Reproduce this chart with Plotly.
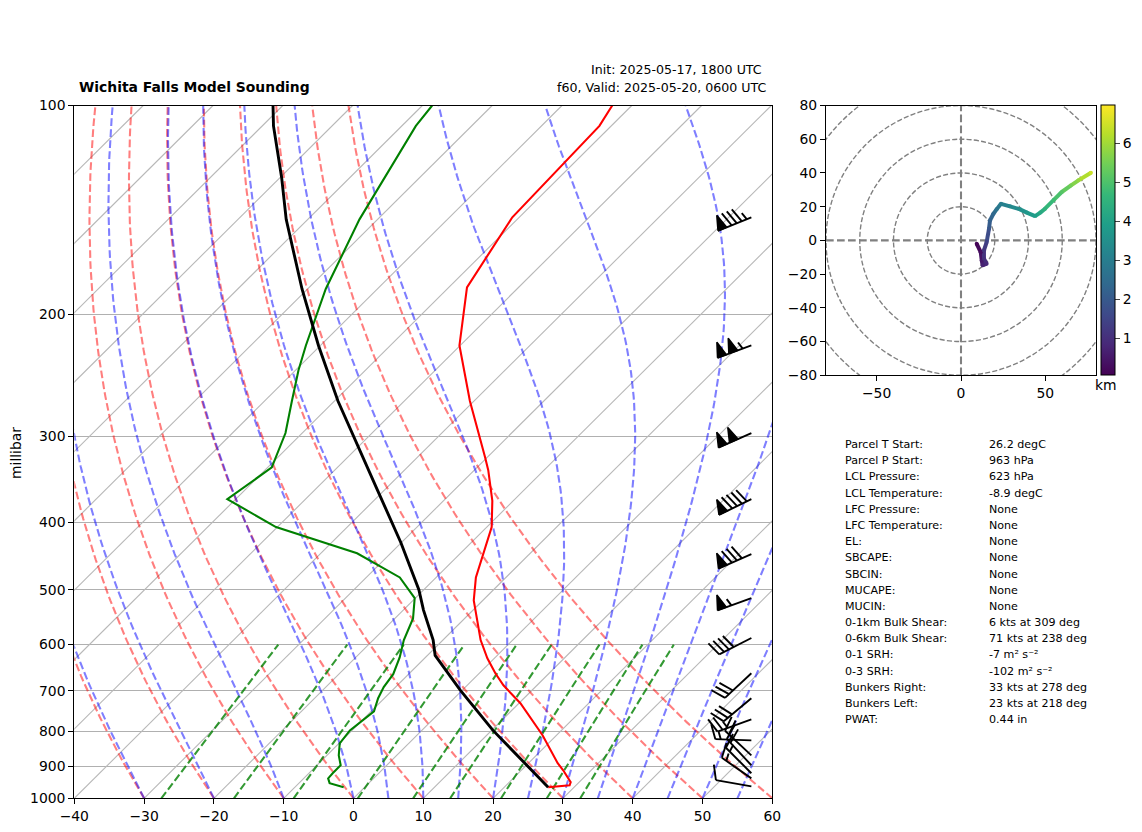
import numpy as np
import plotly.graph_objects as go
from plotly.colors import sample_colorscale

W, H = 1142, 832

# ---- sounding values, hPa and degC ----
temp_p = [964, 958, 948, 911, 890, 852, 811, 729, 687, 660, 628, 591, 548, 518, 480, 449, 406, 372, 336, 322, 267, 222, 183, 145, 126, 107, 100]
temp_c = [26.3, 29.1, 28.8, 26.0, 24.2, 21.3, 18.0, 10.2, 5.2, 2.3, -1.0, -4.6, -8.5, -11.3, -14.3, -16.3, -19.3, -23.0, -28.0, -30.3, -40.6, -50.1, -57.4, -61.0, -61.3, -61.7, -62.8]

dew_p = [964, 951, 936, 920, 896, 867, 833, 798, 749, 717, 691, 662, 626, 591, 550, 514, 480, 443, 406, 370, 333, 297, 267, 241, 222, 184, 146, 107, 100]
dew_c = [-3.0, -5.6, -6.5, -6.6, -6.6, -8.3, -9.9, -10.3, -9.6, -10.9, -11.7, -12.2, -13.7, -15.6, -17.4, -20.1, -25.2, -34.8, -50.2, -61.2, -59.4, -62.4, -66.1, -69.6, -72.1, -77.4, -82.6, -88.0, -88.6]

parcel_p = [964, 798, 698, 622, 591, 535, 500, 428, 359, 267, 222, 184, 146, 127, 107, 100]
parcel_c = [26.3, 10.2, -0.3, -8.9, -11.4, -17.1, -20.7, -30.0, -41.0, -59.5, -70.3, -80.8, -93.1, -99.8, -108.4, -111.4]

# ---- wind barbs ----
barb_p = [961, 936, 920, 896, 867, 825, 769, 717, 660, 587, 514, 444, 370, 297, 222, 145]
barb_kt = [10, 15, 15, 20, 20, 15, 25, 30, 30, 40, 55, 80, 90, 100, 105, 85]
barb_dir = [280, 305, 315, 317, 313, 272, 250, 230, 227, 243, 250, 246, 244, 246, 250, 248]

# ---- hodograph ----
hodo_u = [9.3, 11.7, 12.3, 12.8, 15.2, 13.6, 13.6, 15.2, 16.6, 17.2, 19.2, 21.1, 23.7, 29.0, 35.0, 39.0, 43.9, 47.0, 49.8, 55.0, 59.7, 65.0, 69.6, 77.0]
hodo_v = [-2.0, -7.0, -11.9, -14.8, -13.8, -10.9, -5.9, -1.0, 6.9, 11.9, 15.8, 18.4, 21.7, 20.2, 18.4, 16.5, 14.4, 16.5, 18.8, 24.0, 28.7, 32.5, 35.6, 40.1]
hodo_km = [0.1, 0.3, 0.5, 0.7, 0.85, 1.0, 1.15, 1.4, 1.9, 2.2, 2.4, 2.7, 3.0, 3.25, 3.5, 3.7, 3.9, 4.2, 4.5, 4.8, 5.1, 5.5, 5.85, 6.45]

# ---- text ----
stat_labels = ["Parcel T Start:", "Parcel P Start:", "LCL Pressure:", "LCL Temperature:", "LFC Pressure:", "LFC Temperature:", "EL:", "SBCAPE:", "SBCIN:", "MUCAPE:", "MUCIN:", "0-1km Bulk Shear:", "0-6km Bulk Shear:", "0-1 SRH:", "0-3 SRH:", "Bunkers Right:", "Bunkers Left:", "PWAT:"]
stat_values = ["26.2 degC", "963 hPa", "623 hPa", "-8.9 degC", "None", "None", "None", "None", "None", "None", "None", "6 kts at 309 deg", "71 kts at 238 deg", "-7 m² s⁻²", "-102 m² s⁻²", "33 kts at 278 deg", "23 kts at 218 deg", "0.44 in"]

# ---- reference-line families ----
iso_t = list(range(-150, 61, 10))
dry_t0 = list(range(-30, 61, 10))
moist_t0 = [-30, -20, -10, 0, 5, 10, 15, 20, 25, 30, 35, 40, 45, 50, 55]
mix_w = [0.0004, 0.001, 0.002, 0.004, 0.007, 0.01, 0.016, 0.024, 0.032]

# ---- frame geometry ----
ML, MR, MT, MB = 74.3, 772.3, 105.5, 798.3
HL, HR, HT, HB = 826, 1096, 105.5, 375.3
PX_PER_C = (MR - ML) / 100.0
PX_PER_DEC = float(MB - MT)
SKEW = 99.87
FONT = "DejaVu Sans"
TICK = 13.9
LW = 2.08
DASH = "7.7px,3.3px"


def skew_x(t, p):
    return np.asarray(t, float) + SKEW * np.log10(1000.0 / np.asarray(p, float))


def es(tk):
    tc = tk - 273.15
    return 6.112 * np.exp(17.67 * tc / (tc + 243.5))


def moist_rate(p, t):
    rd, cp, lv, eps = 287.047, 1005.7, 2.501e6, 0.622
    e = es(t)
    rs = eps * e / np.maximum(p - e, 1e-6)
    return ((rd * t + lv * rs) / (cp + lv * lv * rs * eps / (rd * t * t))) / p


def moist_profile(t0c, levels):
    out = [t0c + 273.15]
    for a, b in zip(levels[:-1], levels[1:]):
        h = b - a
        t = out[-1]
        k1 = moist_rate(a, t)
        k2 = moist_rate(a + h / 2, t + h * k1 / 2)
        k3 = moist_rate(a + h / 2, t + h * k2 / 2)
        k4 = moist_rate(b, t + h * k3)
        out.append(t + h * (k1 + 2 * k2 + 2 * k3 + k4) / 6)
    return np.array(out) - 273.15


def family(curves):
    xs, ys = [], []
    for x, y in curves:
        xs += list(x) + [None]
        ys += list(y) + [None]
    return xs, ys


fig = go.Figure()
levels = np.geomspace(1000, 100, 120)


def guide(curves, color, opacity, width=LW, dash=DASH):
    xs, ys = family(curves)
    fig.add_trace(go.Scatter(x=xs, y=ys, mode="lines", opacity=opacity, hoverinfo="skip",
                             line=dict(color=color, width=width, dash=dash), xaxis="x", yaxis="y"))


guide([(skew_x([t, t], [1000, 100]), [1000, 100]) for t in iso_t], "#b8b8b8", 1, 1.1, "solid")
guide([(skew_x((t0 + 273.15) * (levels / 1000) ** 0.2857 - 273.15, levels), levels) for t0 in dry_t0], "#ff0000", 0.5)
guide([(skew_x(moist_profile(t0, levels), levels), levels) for t0 in moist_t0], "#0000ff", 0.5)

mix_levels = np.geomspace(1000, 600, 30)
mix_curves = []
for w in mix_w:
    e = mix_levels * w / (0.622 + w)
    v = np.log(e / 6.112)
    mix_curves.append((skew_x(243.5 * v / (17.67 - v), mix_levels), mix_levels))
guide(mix_curves, "#008000", 0.8)

for px, py, color, width in [(temp_p, temp_c, "#ff0000", LW), (dew_p, dew_c, "#008000", LW), (parcel_p, parcel_c, "#000000", 2.9)]:
    fig.add_trace(go.Scatter(x=skew_x(py, px), y=px, mode="lines", hoverinfo="skip",
                             line=dict(color=color, width=width), xaxis="x", yaxis="y"))


# ---- barbs, matplotlib geometry ----
BARB_X = 57.0
L = 36.0
FH, FW, SP = 0.41 * L, 0.26 * L, 0.15 * L
line_x, line_y, flag_x, flag_y = [], [], [], []


def to_data(p0, dx, dy):
    return BARB_X + dx / PX_PER_C, p0 * 10 ** (dy / PX_PER_DEC)


for p0, spd, d in zip(barb_p, barb_kt, barb_dir):
    th = np.radians(d)
    sx, sy = np.sin(th), -np.cos(th)
    nx, ny = -sy, sx

    def pt(along, out):
        return to_data(p0, sx * along + nx * out, sy * along + ny * out)

    rounded = int(5 * round(spd / 5.0))
    nflag, rest = rounded // 50, rounded % 50
    nfull, nhalf = rest // 10, (rest % 10) // 5
    segs = [(pt(0, 0), pt(L, 0))]
    offset = L
    for i in range(nflag):
        if offset != L:
            offset += SP / 2
        tri = [pt(offset, 0), pt(offset - FW / 2, FH), pt(offset - FW, 0), pt(offset, 0)]
        flag_x += [q[0] for q in tri] + [None]
        flag_y += [q[1] for q in tri] + [None]
        offset -= FW + SP
    for i in range(nfull):
        segs.append((pt(offset, 0), pt(offset + FW / 2, FH)))
        offset -= SP
    if nhalf:
        if nflag + nfull == 0:
            offset -= 1.5 * SP
        segs.append((pt(offset, 0), pt(offset + FW / 4, FH / 2)))
    for a, b in segs:
        line_x += [a[0], b[0], None]
        line_y += [a[1], b[1], None]

fig.add_trace(go.Scatter(x=line_x, y=line_y, mode="lines", hoverinfo="skip",
                         line=dict(color="black", width=1.9), xaxis="x", yaxis="y"))
fig.add_trace(go.Scatter(x=flag_x, y=flag_y, mode="lines", fill="toself", fillcolor="black", hoverinfo="skip",
                         line=dict(color="black", width=1.5), xaxis="x", yaxis="y"))

# ---- hodograph ----
CMIN, CMAX = 0.05, 6.97
seg_cols = sample_colorscale("Viridis", [(0.5 * (a + b) - CMIN) / (CMAX - CMIN) for a, b in zip(hodo_km[:-1], hodo_km[1:])])
for i, c in enumerate(seg_cols):
    fig.add_trace(go.Scatter(x=hodo_u[i:i + 2], y=hodo_v[i:i + 2], mode="lines", hoverinfo="skip",
                             line=dict(color=c, width=4), xaxis="x2", yaxis="y2"))
fig.add_trace(go.Scatter(
    x=hodo_u, y=hodo_v, mode="markers", hoverinfo="skip", xaxis="x2", yaxis="y2",
    marker=dict(size=4, color=hodo_km, cmin=CMIN, cmax=CMAX, colorscale="Viridis", showscale=True,
                colorbar=dict(x=1100.5 / W, xanchor="left", y=(H - HB) / H, yanchor="bottom", lenmode="pixels", len=HB - HT,
                              thicknessmode="pixels", thickness=13.5, xpad=0, ypad=0, outlinecolor="black", outlinewidth=1,
                              ticks="outside", ticklen=5, tickwidth=1.1, tickvals=[1, 2, 3, 4, 5, 6],
                              tickfont=dict(family=FONT, size=TICK, color="black")))))

shapes = []
for r in [20, 40, 60, 80, 100]:
    shapes.append(dict(type="circle", xref="x2", yref="y2", x0=-r, x1=r, y0=-r, y1=r, layer="below",
                       line=dict(color="#808080", width=1.39, dash="5.1px,2.2px")))
for k in ["v", "h"]:
    xy = dict(x0=0, x1=0, y0=-80, y1=80) if k == "v" else dict(x0=-80, x1=80, y0=0, y1=0)
    shapes.append(dict(type="line", xref="x2", yref="y2", layer="below",
                       line=dict(color="#808080", width=2.08, dash=DASH), **xy))


def axis(dom, **kw):
    return dict(domain=dom, automargin=False, showline=True, mirror=True, linecolor="black", linewidth=1.1, ticks="outside",
                ticklen=5, tickwidth=1.1, tickcolor="black", zeroline=False,
                tickfont=dict(family=FONT, size=TICK, color="black"), **kw)


annotations = []


def text(x, y, s, size, anchor="left", bold=False, angle=0):
    annotations.append(dict(xref="paper", yref="paper", x=x / W, y=1 - y / H, text="<b>%s</b>" % s if bold else s,
                            showarrow=False, xanchor=anchor, yanchor="middle", textangle=angle, borderpad=0, borderwidth=0,
                            font=dict(family=FONT, size=size, color="black")))


text(79, 87, "Wichita Falls Model Sounding", 13.9, bold=True)
text(762, 69.5, "Init: 2025-05-17, 1800 UTC", 12.6, "right")
text(766, 87, "f60, Valid: 2025-05-20, 0600 UTC", 12.6, "right")
text(16, 453, "millibar", TICK, "center", angle=-90)
text(1106, 385, "km", TICK, "center")
for i, (a, b) in enumerate(zip(stat_labels, stat_values)):
    y = 444.6 + i * 16.18
    text(845, y, a, 11.1)
    text(989, y, b, 11.1)

p_ticks = list(range(100, 1001, 100))
fig.update_layout(
    width=W, height=H, margin=dict(l=0, r=0, t=0, b=0, autoexpand=False), paper_bgcolor="white", plot_bgcolor="white",
    showlegend=False, hovermode=False, shapes=shapes, annotations=annotations,
    xaxis=axis([ML / W, MR / W], range=[-40, 60], tickvals=list(range(-40, 61, 10)), showgrid=False, anchor="y"),
    yaxis=axis([(H - MB) / H, (H - MT) / H], type="log", range=[3, 2], tickvals=p_ticks, ticktext=[str(v) for v in p_ticks],
               showgrid=True, gridcolor="#b0b0b0", gridwidth=1.1, anchor="x"),
    xaxis2=axis([HL / W, HR / W], range=[-80, 80], tickvals=[-50, 0, 50], showgrid=False, anchor="y2"),
    yaxis2=axis([(H - HB) / H, (H - HT) / H], range=[-80, 80], tickvals=list(range(-80, 81, 20)), showgrid=False, anchor="x2"),
)

fig.write_html("out.html", config=dict(displayModeBar=False), post_script="document.body.style.margin='0';")
